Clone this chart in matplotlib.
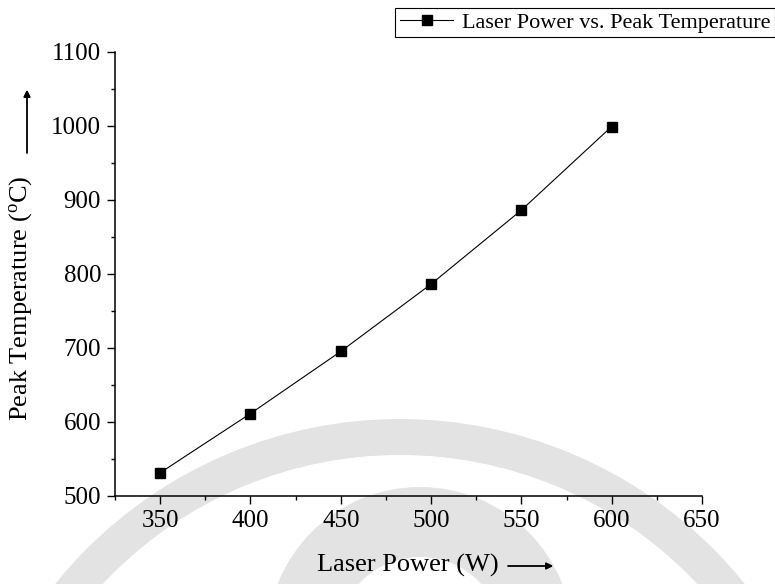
import matplotlib
matplotlib.use("Agg")
import matplotlib.pyplot as plt
from matplotlib.patches import Wedge
from matplotlib.ticker import MultipleLocator

laser_power = [350, 400, 450, 500, 550, 600]
peak_temp = [531, 611, 695, 786, 886, 999]
series_label = "Laser Power vs. Peak Temperature"
x_ticks = [350, 400, 450, 500, 550, 600, 650]
y_ticks = [500, 600, 700, 800, 900, 1000, 1100]

plt.rcParams['font.family'] = ['Liberation Serif', 'DejaVu Serif']
plt.rcParams['mathtext.fontset'] = 'custom'
plt.rcParams['mathtext.rm'] = 'Liberation Serif'
plt.rcParams['mathtext.it'] = 'Liberation Serif'

W, H, DPI = 775, 584, 100
fig = plt.figure(figsize=(W / DPI, H / DPI), dpi=DPI)

# watermark (light grey rings)
def px(x, y):
    return (x / DPI, (H - y) / DPI)

wm = '#e3e3e3'
for (cx, cy, r, w) in [(400, 862, 443, 36), (420, 640, 153, 70)]:
    c = px(cx, cy)
    fig.patches.append(Wedge(c, r / DPI, 0, 360, width=w / DPI, transform=fig.dpi_scale_trans,
                             facecolor=wm, edgecolor='none', zorder=-10))

ax = fig.add_axes([115 / W, 1 - 495.7 / H, (702 - 115) / W, (495.7 - 51.8) / H])
ax.patch.set_alpha(0)
ax.plot(laser_power, peak_temp, color='black', lw=0.8, marker='s', markersize=7.2,
        markerfacecolor='black', markeredgecolor='black', label=series_label)

ax.set_xlim(325, 650)
ax.set_ylim(500, 1100)
ax.set_xticks(x_ticks)
ax.set_yticks(y_ticks)
ax.xaxis.set_minor_locator(MultipleLocator(25))
ax.yaxis.set_minor_locator(MultipleLocator(50))
for s in ['top', 'right']:
    ax.spines[s].set_visible(False)
for s in ['left', 'bottom']:
    ax.spines[s].set_linewidth(1.1)
ax.tick_params(which='major', direction='out', length=6, width=1.0, labelsize=18, pad=4)
ax.tick_params(which='minor', direction='out', length=3, width=1.0)

# axis labels with arrows
fig.text(21 / W, 1 - 298 / H, "Peak Temperature ($^{\\mathrm{o}}$C)", rotation=90,
         ha='center', va='center', fontsize=19)
fig.text(408 / W, 1 - 565 / H, "Laser Power (W)", ha='center', va='center', fontsize=19)
fig.add_artist(plt.annotate('', xy=(27 / W, 1 - 90 / H), xytext=(27 / W, 1 - 153 / H),
                            xycoords='figure fraction',
                            arrowprops=dict(arrowstyle='-|>', color='black', lw=1.0,
                                            mutation_scale=10, shrinkA=0, shrinkB=0)))
fig.add_artist(plt.annotate('', xy=(553 / W, 1 - 566 / H), xytext=(508 / W, 1 - 566 / H),
                            xycoords='figure fraction',
                            arrowprops=dict(arrowstyle='-|>', color='black', lw=1.0,
                                            mutation_scale=10, shrinkA=0, shrinkB=0)))

leg = fig.legend(loc='upper right', bbox_to_anchor=(1.0, 1 - 8 / H), fontsize=16,
                 frameon=True, fancybox=False, edgecolor='black', framealpha=1,
                 borderpad=0.2, handlelength=2.4, handletextpad=0.4, borderaxespad=0)
leg.get_frame().set_linewidth(0.8)

fig.savefig('out.png', dpi=DPI)
